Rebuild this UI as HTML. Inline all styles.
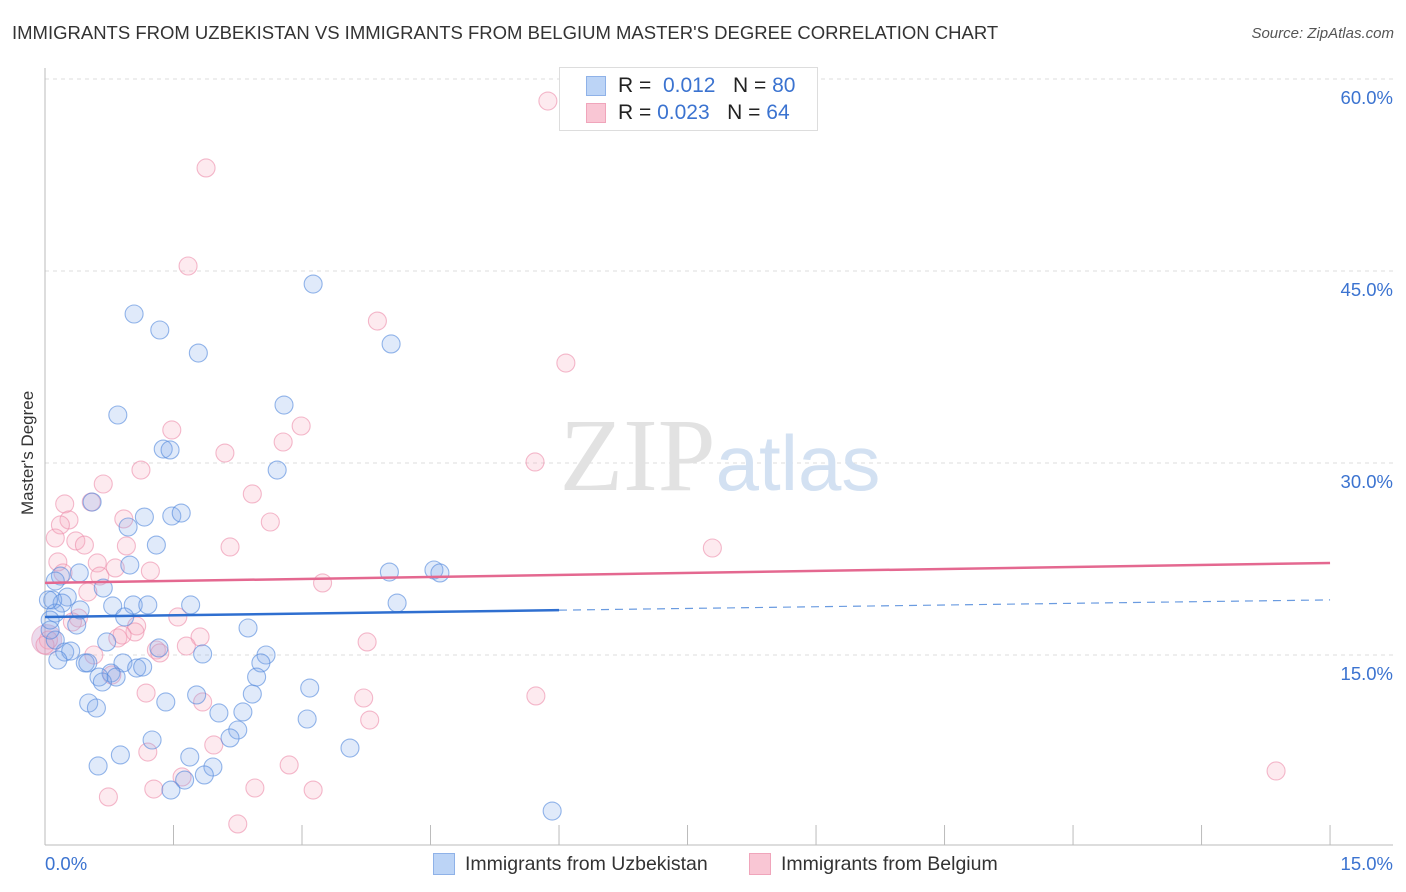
<!DOCTYPE html>
<html><head><meta charset="utf-8">
<style>
body{margin:0;background:#fff;font-family:"Liberation Sans",sans-serif;}
#wrap{position:relative;width:1406px;height:892px;overflow:hidden;}
.t{position:absolute;white-space:nowrap;}
</style></head>
<body><div id="wrap">
<div class="t" style="left:12px;top:22px;font-size:18.5px;color:#333;">IMMIGRANTS FROM UZBEKISTAN VS IMMIGRANTS FROM BELGIUM MASTER'S DEGREE CORRELATION CHART</div>
<div class="t" style="right:12px;top:25px;font-size:15px;color:#555;font-style:italic;">Source: ZipAtlas.com</div>
<div class="t" style="left:-32px;top:445px;font-size:17px;color:#333;transform:rotate(-90deg);width:120px;text-align:center;">Master's Degree</div>
<svg id="plot" width="1406" height="892" style="position:absolute;left:0;top:0"></svg>
<div style="position:absolute;left:559px;top:67px;width:257px;height:62px;border:1px solid #ddd;background:#fff;">
 <div style="position:absolute;left:26px;top:8px;width:20px;height:20px;background:#bcd4f6;border:1px solid #8fb2e8;box-sizing:border-box"></div>
 <div class="t" style="left:58px;top:6px;font-size:21px;color:#222">R = &nbsp;<span style="color:#3b73d0">0.012</span>&nbsp;&nbsp;&nbsp;N = <span style="color:#3b73d0">80</span></div>
 <div style="position:absolute;left:26px;top:35px;width:20px;height:20px;background:#f9c6d4;border:1px solid #f0a5bb;box-sizing:border-box"></div>
 <div class="t" style="left:58px;top:33px;font-size:21px;color:#222">R = <span style="color:#3b73d0">0.023</span>&nbsp;&nbsp;&nbsp;N = <span style="color:#3b73d0">64</span></div>
</div>
<div>
 <div style="position:absolute;left:433px;top:853px;width:22px;height:22px;background:#bcd4f6;border:1px solid #8fb2e8;box-sizing:border-box"></div>
 <div class="t" style="left:465px;top:853px;font-size:19.5px;color:#333">Immigrants from Uzbekistan</div>
 <div style="position:absolute;left:749px;top:853px;width:22px;height:22px;background:#f9c6d4;border:1px solid #f0a5bb;box-sizing:border-box"></div>
 <div class="t" style="left:781px;top:853px;font-size:19.5px;color:#333">Immigrants from Belgium</div>
</div>
</div>
<script>
const blueX=[3.13,1.04,1.34,1.79,4.04,2.79,0.85,1.38,1.46,2.71,0.55,1.16,1.48,1.59,0.97,1.30,0.99,0.40,0.18,0.12,4.02,4.54,4.61,0.68,0.26,0.09,0.20,0.79,1.03,1.20,1.70,4.11,0.12,0.93,0.37,2.37,0.72,1.33,0.23,0.30,2.58,1.84,0.47,0.50,0.91,2.52,1.07,1.14,0.77,0.63,0.83,0.67,2.47,3.09,1.77,2.42,1.41,0.51,0.60,2.03,2.31,3.06,2.25,2.16,1.25,3.56,1.69,0.88,0.62,1.96,1.86,1.63,1.47,5.92,0.12,0.06,0.15,0.41,0.04,0.06];
const blueY=[43.98,41.64,40.39,38.59,39.30,34.53,33.75,31.09,31.02,29.45,26.95,25.78,25.86,26.09,25.00,23.59,22.03,21.41,21.17,20.78,21.48,21.64,21.41,20.23,19.53,19.30,19.06,18.83,18.91,18.91,18.91,19.06,18.28,17.97,17.34,17.11,16.02,15.55,15.23,15.31,15.00,15.08,14.38,14.38,14.38,14.38,13.98,14.06,13.59,13.28,13.28,12.89,13.28,12.42,11.88,11.95,11.33,11.25,10.86,10.47,10.55,10.00,9.14,8.52,8.36,7.73,7.03,7.19,6.33,6.25,5.63,5.23,4.45,2.81,16.17,16.95,14.61,18.52,19.30,17.73];
const pinkX=[5.87,1.88,1.67,3.88,6.08,1.48,2.99,2.10,2.78,1.12,5.72,0.68,2.42,0.23,0.54,0.28,0.18,0.92,2.63,7.79,0.12,0.36,0.46,0.95,2.16,0.15,0.61,0.82,1.23,0.21,0.64,3.24,0.50,0.39,1.55,1.07,1.05,0.85,0.90,1.81,1.65,1.30,1.34,3.76,0.04,0.57,0.78,1.18,3.72,5.73,1.84,3.79,1.97,1.20,2.85,1.60,1.27,3.13,2.45,0.74,2.25,14.37,0.00,0.32];
const pinkY=[58.28,53.05,45.39,41.09,37.81,32.58,32.89,30.78,31.64,29.45,30.08,28.36,27.58,26.80,26.95,25.55,25.16,25.63,25.39,23.36,24.14,23.91,23.59,23.52,23.44,22.27,22.19,21.80,21.56,21.41,21.17,20.63,19.92,17.89,17.97,17.27,16.80,16.33,16.56,16.41,15.70,15.39,15.16,16.02,16.17,15.00,13.44,12.03,11.64,11.80,11.33,9.92,7.97,7.42,6.41,5.47,4.53,4.45,4.61,3.91,1.80,5.94,15.78,17.58];
const blueTrend=[17.97,0.089];
const pinkTrend=[20.63,0.104];
const yTicks=[15,30,45,60];
const xTickVals=[0,1.5,3,4.5,6,7.5,9,10.5,12,13.5,15];
const NS='http://www.w3.org/2000/svg';
const svg=document.getElementById('plot');
const X=v=>45+v*85.67, Y=v=>847-v*12.8;
function mk(tag,attrs){const e=document.createElementNS(NS,tag);for(const k in attrs)e.setAttribute(k,attrs[k]);svg.appendChild(e);return e;}
yTicks.forEach(t=>{
 const g=mk('line',{x1:45,x2:1393,y1:Y(t),y2:Y(t),stroke:'#ddd','stroke-dasharray':'4,4'});
 
 
 const l=mk('text',{x:1393,y:Y(t)+25,'text-anchor':'end','font-size':'18.5',fill:'#3b73d0','font-family':'Liberation Sans, sans-serif'});
 l.textContent=t.toFixed(1)+'%';
 
 
});
const ax=mk('line',{x1:45,x2:45,y1:68,y2:845,stroke:'#bbb'});


const xa=mk('line',{x1:45,x2:1393,y1:845,y2:845,stroke:'#bbb'});


xTickVals.forEach(v=>{
 const t=mk('line',{x1:X(v),x2:X(v),y1:825,y2:845,stroke:'#bbb'});
 
 
});
[[0,'0.0%','start',45],[15,'15.0%','end',1393]].forEach(a=>{
 const l=mk('text',{x:a[3],y:870,'text-anchor':a[2],'font-size':'18.5',fill:'#3b73d0','font-family':'Liberation Sans, sans-serif'});
 l.textContent=a[1];
 
 
});
const wm=mk('text',{x:720,y:490,'text-anchor':'middle','font-size':'104','font-family':'Liberation Serif, serif',fill:'#e2e2e2'});
wm.innerHTML='ZIP<tspan fill="#d3e1f2" font-family="Liberation Sans, sans-serif" font-size="78">atlas</tspan>';


const big=mk('circle',{cx:X(0.02),cy:Y(16.2),r:15,fill:'rgba(200,150,200,0.35)',stroke:'rgba(230,160,190,0.6)'});


function pts(xs,ys,fill,stroke,name){xs.forEach((x,i)=>{
 const c=mk('circle',{cx:X(x),cy:Y(ys[i]),r:9,fill:fill,stroke:stroke,'stroke-width':1.1});
 
 
});}
pts(pinkX,pinkY,'rgba(246,170,192,0.25)','rgba(236,140,170,0.6)','belgium-point');
pts(blueX,blueY,'rgba(130,170,235,0.25)','rgba(80,135,220,0.6)','uzbekistan-point');
const bl=mk('line',{x1:X(0),x2:X(6),y1:Y(blueTrend[0]),y2:Y(blueTrend[0]+blueTrend[1]*6),stroke:'#2f6fd0','stroke-width':2.5});


const bd=mk('line',{x1:X(6),x2:X(15),y1:Y(blueTrend[0]+blueTrend[1]*6),y2:Y(blueTrend[0]+blueTrend[1]*15),stroke:'#6a9be0','stroke-width':1.2,'stroke-dasharray':'8,6'});


const pl=mk('line',{x1:X(0),x2:X(15),y1:Y(pinkTrend[0]),y2:Y(pinkTrend[0]+pinkTrend[1]*15),stroke:'#e46890','stroke-width':2.5});


</script>
</body></html>
